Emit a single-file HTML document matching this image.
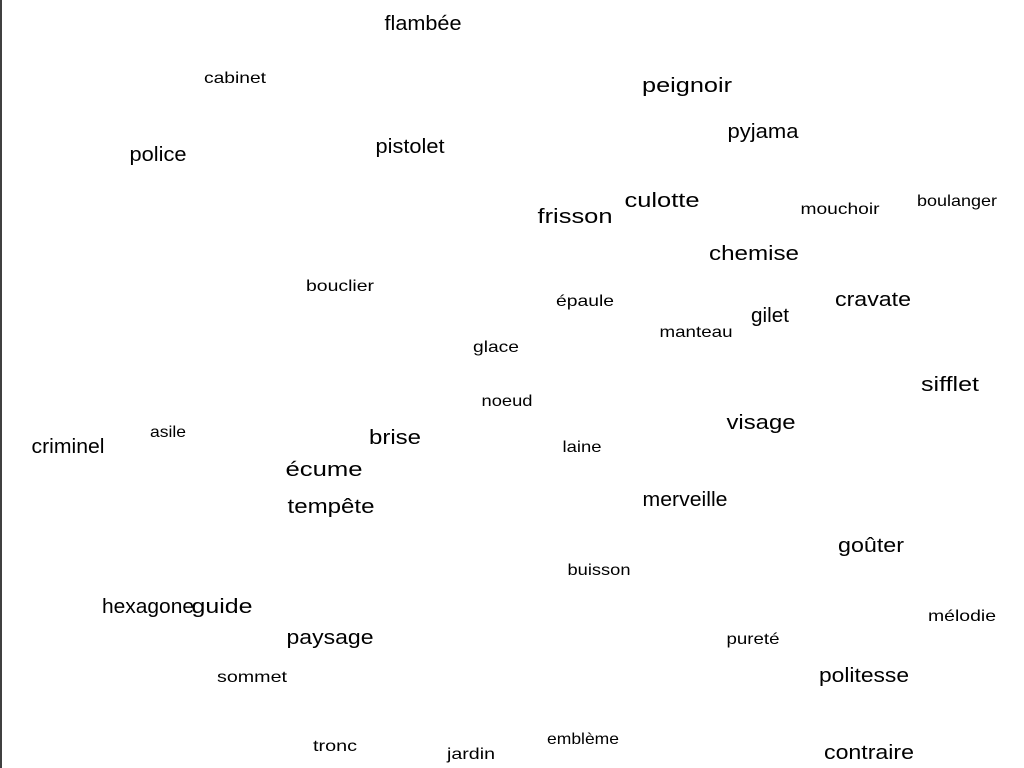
<!DOCTYPE html>
<html><head><meta charset="utf-8"><style>
html,body{margin:0;padding:0;background:#fff;}
svg{display:block;}
text{font-family:"Liberation Sans",Arial,sans-serif;fill:#000;text-anchor:middle;}
</style></head><body>
<svg id="chart" width="1024" height="768" viewBox="0 0 1024 768">
<line x1="1" y1="0" x2="1" y2="768" stroke="#000" stroke-width="1.5"/>
<g id="words"></g>
</svg>
<script>
const words = ["flambée","peignoir","pyjama","police","pistolet","culotte","frisson","chemise","cravate","gilet","sifflet","visage","brise","criminel","écume","tempête","merveille","goûter","hexagone","guide","paysage","politesse","contraire",
"cabinet","mouchoir","boulanger","bouclier","épaule","manteau","glace","noeud","asile","laine","buisson","mélodie","pureté","sommet","tronc","jardin","emblème"];
const xs = [423,687,763,158,410,662,575,754,873,770,950,761,395,68,324,331,685,871,148,222,330,864,869,
235,840,957,340,585,696,496,507,168,582,599,962,753,252,335,471,583];
const ys = [23,85,131,154,146,200,216,253,299,315,384,422,437,446,469,506,499,545,606,606,637,675,752,
77,208,200,285,300,331,346,400,431,446,569,615,638,676,745,753,738];
const sizes = [20,20,20,20,20,20,20,20,20,20,20,20,20,20,20,20,20,20,20,20,20,20,20,
16,16,16,16,16,16,16,16,16,16,16,16,16,16,16,16,16];
const widths = [77,90,71,57,69,75,75,90,76,38,58,69,52,73,77,87,85,66,92,61,87,90,90,
62,79,80,68,58,73,46,51,36,39,63,68,53,70,44,48,72];
const g = document.getElementById('words');
const NS = 'http://www.w3.org/2000/svg';
words.forEach((w,i)=>{
  const t = document.createElementNS(NS,'text');
  
  
  t.setAttribute('x', xs[i]);
  t.setAttribute('y', ys[i] + sizes[i]*0.36);
  t.setAttribute('font-size', sizes[i]);
  t.setAttribute('textLength', widths[i]);
  t.setAttribute('lengthAdjust', 'spacingAndGlyphs');
  t.textContent = w;
  g.appendChild(t);
});
</script>
</body></html>
